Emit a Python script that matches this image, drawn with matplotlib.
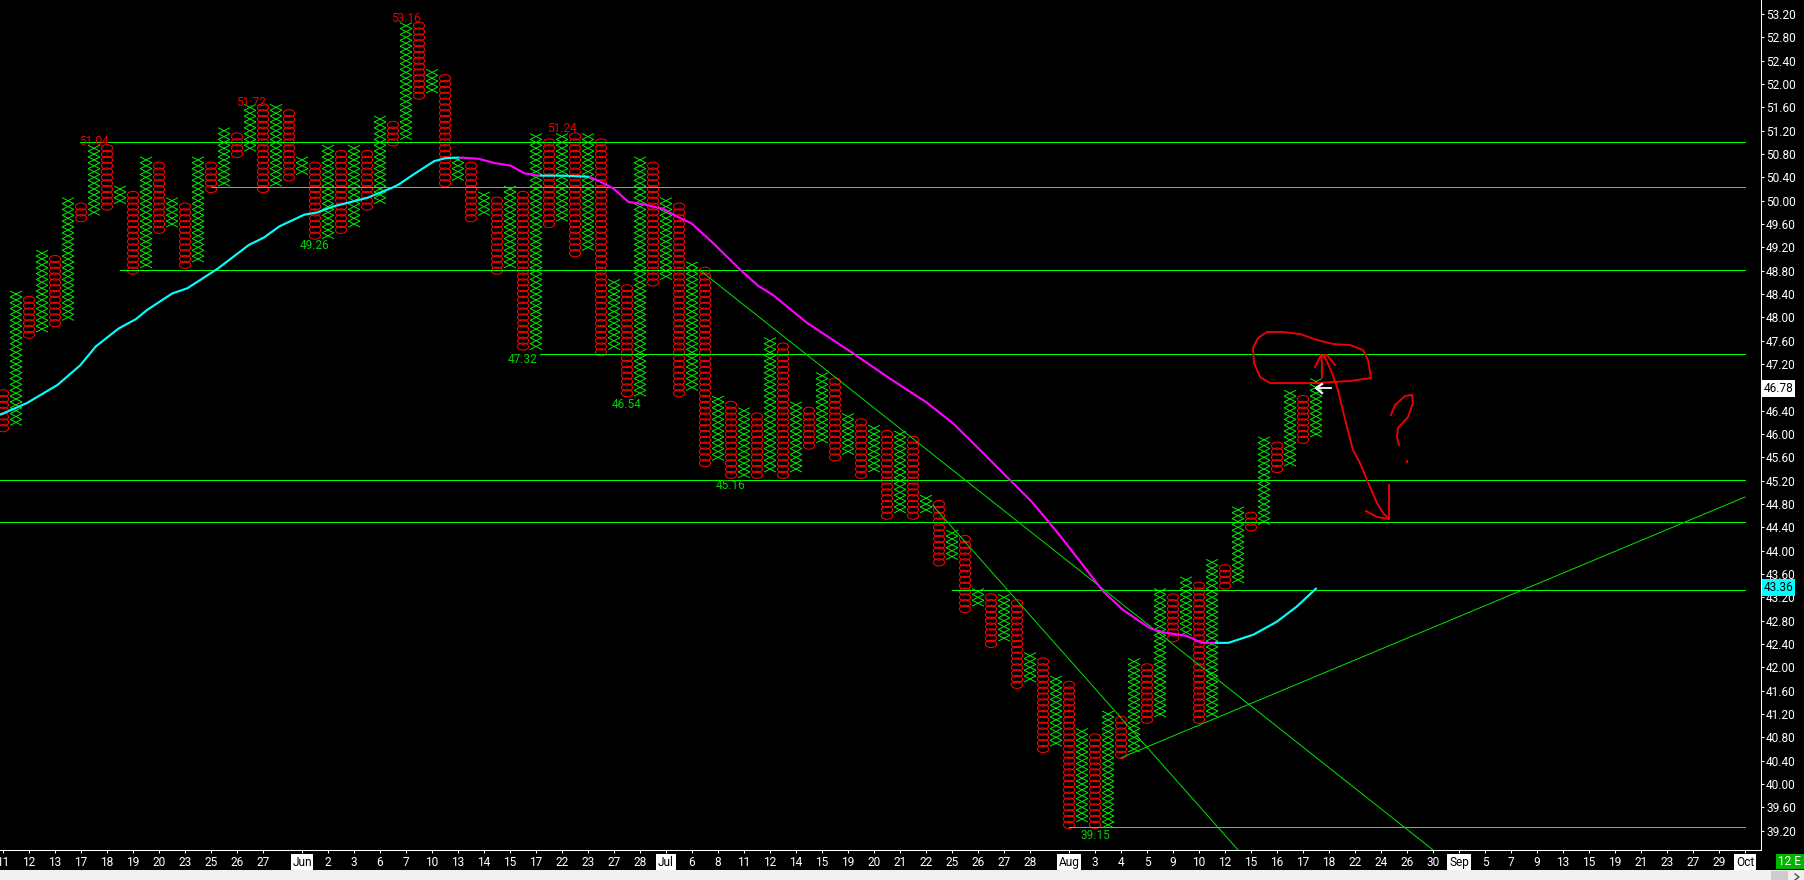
import numpy as np
import matplotlib
matplotlib.use("Agg")
import matplotlib.pyplot as plt
from matplotlib.collections import LineCollection, EllipseCollection
from matplotlib.patches import Rectangle
from matplotlib.transforms import Affine2D

plt.rcParams['font.family'] = ['Roboto', 'DejaVu Sans']

W, H = 1804, 880
BOX = 0.1

# Point & figure columns: even index = O column, odd index = X column
col_high = [46.75,48.45,48.35,49.15,49.05,50.05,49.95,50.95,50.95,50.25,
            50.15,50.75,50.65,50.05,49.95,50.75,50.65,51.25,51.15,51.65,
            51.65,51.65,51.55,50.75,50.65,50.95,50.85,50.95,50.85,51.45,
            51.35,53.05,53.05,52.25,52.15,50.75,50.65,50.15,50.05,50.25,
            50.15,51.15,51.05,51.15,51.15,51.15,51.05,48.65,48.55,50.75,
            50.65,50.05,49.95,48.95,48.85,46.65,46.55,46.45,46.35,47.65,
            47.55,46.55,46.45,47.05,46.95,46.35,46.25,46.15,46.05,46.05,
            45.95,44.95,44.85,44.35,44.25,43.35,43.25,43.25,43.15,42.25,
            42.15,41.85,41.75,40.95,40.85,41.25,41.15,42.15,42.05,43.35,
            43.25,43.55,43.45,43.85,43.75,44.75,44.65,45.95,45.85,46.75,
            46.65,46.95]
col_low = [46.05,46.15,47.65,47.75,47.85,47.95,49.65,49.75,49.85,49.95,
           48.75,48.85,49.45,49.55,48.85,48.95,50.15,50.25,50.75,50.85,
           50.15,50.25,50.35,50.45,49.35,49.35,49.45,49.55,49.85,49.95,
           50.95,51.05,51.75,51.85,50.25,50.35,49.65,49.75,48.75,48.85,
           47.45,47.45,49.55,49.65,49.05,49.15,47.35,47.45,46.65,46.65,
           48.55,48.65,46.65,46.75,45.45,45.55,45.25,45.25,45.25,45.35,
           45.25,45.35,45.75,45.85,45.55,45.65,45.25,45.35,44.55,44.65,
           44.55,44.65,43.75,43.85,42.95,43.05,42.35,42.45,41.65,41.75,
           40.55,40.65,39.25,39.35,39.25,39.25,40.45,40.55,41.05,41.15,
           42.45,42.55,41.05,41.15,43.35,43.45,44.35,44.45,45.35,45.45,
           45.85,45.95]

# Moving average: (column, value), with colour runs
ma_col = [-0.23,1.83,4.18,5.95,7.13,8.9,10.22,11.1,13.02,14.19,16.55,18.9,20.08,21.26,23.17,
          24.2,25.38,28.03,29.8,30.38,31.71,33.18,34.06,35.09,36.57,37.74,39.07,40.1,41.28,
          43.04,45.1,45.92,46.95,48.1,49.25,50.79,51.82,52.97,54.64,56.69,58.1,59.25,61.82,
          65.41,68.23,71.05,73.1,75.41,77.46,79.13,81.05,83.36,84.64,86.18,88.23,89.26,91.05,
          92.2,93.23,94.26,96.18,97.97,99.51,101.05]
ma_val = [46.33,46.53,46.84,47.18,47.50,47.81,47.97,48.13,48.41,48.50,48.84,49.24,49.37,49.56,49.76,
          49.80,49.90,50.05,50.21,50.27,50.47,50.68,50.73,50.74,50.72,50.65,50.60,50.47,50.43,
          50.43,50.41,50.33,50.21,49.98,49.94,49.86,49.73,49.61,49.27,48.82,48.54,48.38,47.91,
          47.38,46.95,46.54,46.18,45.67,45.21,44.84,44.33,43.67,43.30,42.98,42.67,42.60,42.54,
          42.42,42.42,42.42,42.56,42.78,43.04,43.36]
ma_runs = [(0, 23, '#00ffff'), (23, 28, '#ff00ff'), (28, 30, '#00ffff'),
           (30, 58, '#ff00ff'), (58, 63, '#00ffff')]

# Horizontal support / resistance lines: value, starting column
hline_vals = [51.00, 50.23, 48.82, 47.38, 45.22, 44.49, 43.32, 39.27]
hline_from = [5.9, 16.0, 9.0, 41.3, -1.0, -1.0, 73.0, 82.0]
hline_to = 134.0

# Trend lines: (col0, val0, col1, val1)
trend_lines = [(53.6, 48.81, 110.0, 38.87),
               (71.5, 44.78, 95.0, 38.87),
               (86.0, 40.45, 134.0, 44.92)]

# Swing labels: text, column, value, colour
red_labels = [('51.04', 7.0, 51.01), ('51.72', 19.05, 51.69), ('53.16', 31.0, 53.13), ('51.24', 43.0, 51.23)]
green_labels = [('49.26', 24.0, 49.24), ('47.32', 40.0, 47.28), ('46.54', 48.0, 46.51),
                ('45.16', 56.0, 45.12), ('39.15', 84.0, 39.11)]

y_ticks = [round(39.2 + 0.4 * k, 2) for k in range(36)]
x_tick_cols = [0,2,4,6,8,10,12,14,16,18,20,23,25,27,29,31,33,35,37,39,41,43,45,47,49,51,53,55,57,59,
               61,63,65,67,69,71,73,75,77,79,82,84,86,88,90,92,94,96,98,100,102,104,106,108,110,112,
               114,116,118,120,122,124,126,128,130,132,134]
x_tick_labels = ['11','12','13','17','18','19','20','23','25','26','27','Jun','2','3','6','7','10','13','14',
                 '15','17','22','23','27','28','Jul','6','8','11','12','14','15','19','20','21','22','25',
                 '26','27','28','Aug','3','4','5','9','10','12','15','16','17','18','22','24','26','30',
                 'Sep','5','7','9','13','15','19','21','23','27','29','Oct']
month_labels = {'Jun', 'Jul', 'Aug', 'Sep', 'Oct'}

# Hand-drawn annotations, in screen pixels of the original image
blob = [(1267,332),(1283,332),(1300,334),(1317,340),(1333,344),(1350,345),(1363,350),(1368,360),(1371,378),
        (1350,381),(1317,383),(1270,383),(1260,377),(1254,363),(1253,348),(1258,338),(1267,332)]
small_up = [(1322,377),(1322,363),(1321,355),(1315,367)]
small_up2 = [(1321,355),(1325,358)]
long_arrow = [(1335,365),(1327,355),(1324,355),(1332,373),(1338,390),(1342,407),(1347,427),(1353,450),
              (1360,463),(1367,480),(1377,503),(1383,513),(1389,519)]
arrow_head = [(1366,511),(1377,517),(1389,519),(1389,485)]
question = [(1391,415),(1395,405),(1405,396),(1412,395),(1413,403),(1408,417),(1398,428),(1397,437),(1399,445)]
dot = [(1407,461),(1407,461.8)]
cursor_shaft = [(1316,388),(1331,388)]
cursor_head = [(1322,384),(1316,388),(1322,393)]

fig = plt.figure(figsize=(W / 100, H / 100), dpi=100, facecolor='black')
ax = fig.add_axes([0, 30 / H, 1760.5 / W, 850 / H], facecolor='black')


def px2col(px):
    return (px - 3) / 13


def py2val(py):
    return 47.6 - (py - 340.7) / 58.33


ax.set_xlim(px2col(0), px2col(1760.5))
ax.set_ylim(py2val(850), py2val(0))

# Columns
x_segs, o_off = [], []
for i, (hi, lo) in enumerate(zip(col_high, col_low)):
    n = max(1, int(round((hi - lo) / BOX)))
    centers = lo + (np.arange(n) + 0.5) * (hi - lo) / n
    if i % 2 == 0:
        o_off.extend((i, c) for c in centers)
    else:
        hw, hh = 0.46, 0.052
        for c in centers:
            x_segs.append([(i - hw, c - hh), (i + hw, c + hh)])
            x_segs.append([(i - hw, c + hh), (i + hw, c - hh)])

ax.add_collection(LineCollection(x_segs, colors='#00ff00', linewidths=0.65, zorder=2))
ax.add_collection(EllipseCollection(np.full(len(o_off), 0.86), np.full(len(o_off), 0.122), np.zeros(len(o_off)),
                                    units='xy', offsets=np.array(o_off), offset_transform=ax.transData,
                                    facecolors='none', edgecolors='#ff0000', linewidths=0.75, zorder=2))

# Lines
for v, c0 in zip(hline_vals, hline_from):
    ax.plot([c0, hline_to], [v, v], color='#00ff00', lw=0.5, antialiased=False, zorder=3)
for c0, v0, c1, v1 in trend_lines:
    ax.plot([c0, c1], [v0, v1], color='#00e600', lw=0.7, zorder=3)
for a, b, colr in ma_runs:
    ax.plot(ma_col[a:b + 1], ma_val[a:b + 1], color=colr, lw=1.55, zorder=4, solid_capstyle='butt')

# Swing labels
for t, c, v in red_labels:
    ax.text(c, v, t, color='#e80000', fontsize=8.5, ha='center', va='center', zorder=5)
for t, c, v in green_labels:
    ax.text(c, v, t, color='#00d200', fontsize=8.5, ha='center', va='center', zorder=5)

# Axes and ticks
for s in ('left', 'top'):
    ax.spines[s].set_visible(False)
for s in ('right', 'bottom'):
    ax.spines[s].set_color('white')
    ax.spines[s].set_linewidth(0.75)
ax.yaxis.tick_right()
ax.set_yticks(y_ticks)
ax.set_yticklabels([f'{v:.2f}' for v in y_ticks])
ax.set_xticks(x_tick_cols)
ax.set_xticklabels(x_tick_labels)
ax.tick_params(axis='both', colors='white', length=2.4, width=0.75, labelsize=8.6, pad=1.6)
for lab in ax.get_xticklabels():
    if lab.get_text() in month_labels:
        lab.set_color('black')
        lab.set_bbox(dict(facecolor='white', edgecolor='none', pad=1.2))

# Last price / MA boxes
ax.text(px2col(1778.5), 46.78, '46.78', color='black', fontsize=8.6, ha='center', va='center', clip_on=False,
        bbox=dict(facecolor='white', edgecolor='none', pad=1.2), zorder=6)
ax.text(px2col(1778.5), 43.37, '43.36', color='black', fontsize=8.6, ha='center', va='center', clip_on=False,
        bbox=dict(facecolor='#00ffff', edgecolor='none', pad=1.2), zorder=6)

# Overlay in original pixel coordinates
tr = Affine2D().scale(1, -1).translate(0, H)


def stroke(pts, color='#f00000', lw=1.35):
    xs, ys = zip(*pts)
    ln = plt.Line2D(xs, ys, color=color, lw=lw, transform=tr, zorder=10, solid_joinstyle='round')
    fig.add_artist(ln)


for pts in (blob, small_up, small_up2, long_arrow, arrow_head, question, dot):
    stroke(pts)
stroke(cursor_shaft, 'white', 1.3)
stroke(cursor_head, 'white', 1.6)

# Window chrome
fig.add_artist(Rectangle((0, 870), W, 10, transform=tr, facecolor='#f0f0f0', edgecolor='none'))
fig.add_artist(Rectangle((1771, 871), 17, 9, transform=tr, facecolor='#cdcdcd', edgecolor='none'))
stroke([(1795, 874), (1799, 877), (1795, 880)], '#505050', 1.0)
fig.add_artist(Rectangle((1776, 854), 28, 15, transform=tr, facecolor='#00b400', edgecolor='none'))
fig.text(1790 / W, 1 - 861.5 / H, '12 E', color='white', fontsize=8.6, ha='center', va='center')

fig.savefig('out.png', dpi=100, facecolor='black')
